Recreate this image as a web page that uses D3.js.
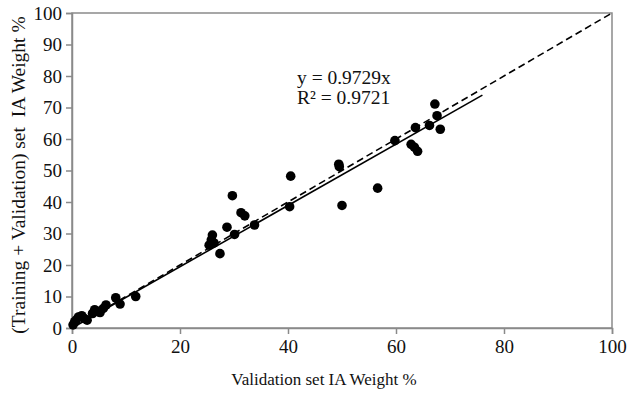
<!DOCTYPE html>
<html>
<head>
<meta charset="utf-8">
<script src="https://cdn.jsdelivr.net/npm/d3@7"></script>
<style>
  body { margin: 0; background: #fff; }
  svg text { font-family: "Liberation Serif", "Times New Roman", serif; fill: #111; }
</style>
</head>
<body>
<svg id="chart" width="630" height="393"></svg>
<script>
// validation set (x) vs training + validation set (y), IA weight %
var valX = [0.2, 0.5, 0.8, 1.2, 1.8, 2.3, 2.8, 3.8, 4.2, 4.8, 5.2, 5.8, 6.3, 8.1, 8.9, 11.8,
            25.4, 25.8, 26.0, 26.3, 27.4, 28.7, 29.7, 30.1, 31.3, 32.0, 33.8,
            40.3, 40.5, 49.4, 49.5, 50.0, 56.6, 59.8, 62.8, 63.4, 63.6, 64.0, 66.2, 67.2, 67.6, 68.2]
var trainY = [1.0, 2.0, 2.6, 3.5, 3.9, 3.0, 2.5, 4.6, 5.8, 5.2, 4.9, 6.2, 7.3, 9.6, 7.6, 10.0,
              26.3, 28.0, 29.5, 27.0, 23.6, 32.0, 42.0, 29.7, 36.6, 35.6, 32.7,
              38.5, 48.2, 52.0, 51.2, 38.9, 44.4, 59.5, 58.3, 57.4, 63.6, 56.1, 64.3, 71.1, 67.4, 63.1]

var slope = 0.9729
var r2 = 0.9721
var fitEnd = 76
var tickVals = [0, 10, 20, 30, 40, 50, 60, 70, 80, 90, 100]
var xTickVals = [0, 20, 40, 60, 80, 100]

var svg = d3.select('#chart')
// note: "top" is taken by window.top, so use a margin object
var plot = {left: 72, right: 612, top: 13, bottom: 328}

var x = d3.scaleLinear().domain([0, 100]).range([plot.left, plot.right])
var y = d3.scaleLinear().domain([0, 100]).range([plot.bottom, plot.top])

// frame
svg.append('rect')
    .attr('x', plot.left).attr('y', plot.top)
    .attr('width', plot.right - plot.left).attr('height', plot.bottom - plot.top)
    .attr('fill', 'none').attr('stroke', '#8a8a8a').attr('stroke-width', 1.5)

var yAxis = svg.append('g')
    .attr('transform', 'translate(' + plot.left + ',0)')
    .call(d3.axisLeft(y).tickValues(tickVals).tickSize(6).tickPadding(4))
yAxis.select('.domain').attr('stroke', '#8a8a8a').attr('stroke-width', 1.5)
yAxis.selectAll('.tick line').attr('stroke', '#8a8a8a').attr('stroke-width', 1.5)
yAxis.selectAll('text').attr('font-size', 19).attr('fill', '#111')

var xAxis = svg.append('g')
    .attr('transform', 'translate(0,' + plot.bottom + ')')
    .call(d3.axisBottom(x).tickValues(xTickVals).tickSize(6).tickPadding(6))
xAxis.select('.domain').attr('stroke', '#8a8a8a').attr('stroke-width', 1.5)
xAxis.selectAll('.tick line').attr('stroke', '#8a8a8a').attr('stroke-width', 1.5)
xAxis.selectAll('text').attr('font-size', 19).attr('fill', '#111')

// 1:1 line
svg.append('line')
    .attr('x1', x(0)).attr('y1', y(0))
    .attr('x2', x(100)).attr('y2', y(100))
    .attr('stroke', '#000').attr('stroke-width', 1.6)
    .attr('stroke-dasharray', '7,4')

// linear fit through origin
svg.append('line')
    .attr('x1', x(0)).attr('y1', y(0))
    .attr('x2', x(fitEnd)).attr('y2', y(slope * fitEnd))
    .attr('stroke', '#000').attr('stroke-width', 1.6)

svg.selectAll('circle.pt')
    .data(valX)
    .enter()
    .append('circle')
    .attr('class', 'pt')
    .attr('cx', (d) => x(d))
    .attr('cy', (d, i) => y(trainY[i]))
    .attr('r', 4.8)
    .attr('fill', '#000')

svg.append('text')
    .attr('x', 297).attr('y', 84)
    .attr('font-size', 19.5)
    .text('y = ' + slope + 'x')
svg.append('text')
    .attr('x', 297).attr('y', 104)
    .attr('font-size', 19.5)
    .text('R² = ' + r2)

svg.append('text')
    .attr('x', 324).attr('y', 385)
    .attr('text-anchor', 'middle')
    .attr('font-size', 17)
    .text('Validation set IA Weight %')

svg.append('text')
    .attr('transform', 'translate(25,175) rotate(-90)')
    .attr('text-anchor', 'middle')
    .attr('font-size', 19.5)
    .style('white-space', 'pre')
    .text('(Training + Validation) set  IA Weight %')
</script>
</body>
</html>
